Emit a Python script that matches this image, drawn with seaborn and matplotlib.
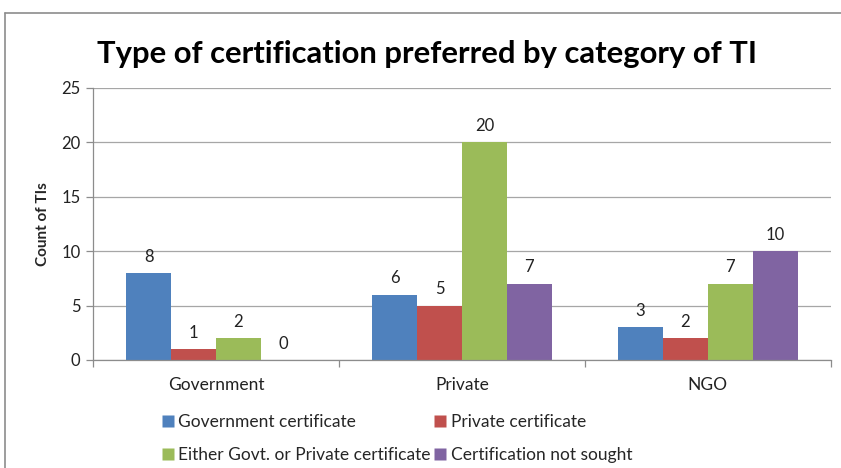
import pandas as pd
import matplotlib
matplotlib.use("Agg")
import matplotlib.pyplot as plt
import seaborn as sns
from matplotlib.lines import Line2D

categories = ["Government", "Private", "NGO"]
series = ["Government certificate", "Private certificate",
          "Either Govt. or Private certificate", "Certification not sought"]
gov_cert = [8, 6, 3]
priv_cert = [1, 5, 2]
either_cert = [2, 20, 7]
not_sought = [0, 7, 10]
colors = ["#4F81BD", "#C0504D", "#9BBB59", "#8064A2"]

rows = []
for s, vals in zip(series, [gov_cert, priv_cert, either_cert, not_sought]):
    for c, v in zip(categories, vals):
        rows.append({"category": c, "series": s, "count": v})
df = pd.DataFrame(rows)

sns.set_theme(style="white")
plt.rcParams["font.family"] = ["Lato", "DejaVu Sans"]

fig = plt.figure(figsize=(8.41, 4.68), dpi=100)
ax = fig.add_axes([0.1106, 0.2308, 0.8774, 0.5812])

sns.barplot(data=df, x="category", y="count", hue="series", palette=colors,
            width=0.73, saturation=1, ax=ax, legend=False, edgecolor="none")

# value labels
for cont in ax.containers:
    ax.bar_label(cont, padding=6, fontsize=12, color="#222222")

ax.set_ylim(0, 25)
ax.set_yticks(range(0, 26, 5))
ax.set_xlim(-0.5, 2.5)
ax.yaxis.grid(True, color="#A6A6A6", linewidth=0.9)
ax.set_axisbelow(True)
for side in ["top", "right"]:
    ax.spines[side].set_visible(False)
for side in ["left", "bottom"]:
    ax.spines[side].set_color("#8C8C8C")
    ax.spines[side].set_linewidth(0.9)

ax.tick_params(axis="y", left=True, length=5, width=0.9, color="#8C8C8C",
               labelsize=12, labelcolor="#222222", pad=4)
ax.tick_params(axis="x", bottom=False, labelsize=12.5, labelcolor="#222222", pad=6)
# category separator ticks on the x axis
ax.set_xticks([-0.5, 0.5, 1.5, 2.5], minor=True)
ax.tick_params(axis="x", which="minor", bottom=True, length=5, width=0.9,
               color="#8C8C8C")

ax.set_xlabel("")
ax.set_ylabel("Count of TIs", fontsize=11, fontweight="bold", labelpad=8)

fig.text(0.508, 0.884, "Type of certification preferred by category of TI",
         ha="center", va="center", fontsize=22.3, fontweight="bold", color="black")

# legend, filled row by row
handles = [Line2D([0], [0], marker="s", linestyle="none", markersize=9,
                  markerfacecolor=c, markeredgecolor="none") for c in colors]
order = [0, 2, 1, 3]
fig.legend([handles[i] for i in order], [series[i] for i in order],
           loc="upper left", bbox_to_anchor=(0.183, 0.13), ncol=2,
           frameon=False, fontsize=12.5, handlelength=0.8, handletextpad=0.2,
           columnspacing=0.15, labelspacing=1.0, borderaxespad=0)

# outer chart border (top and left visible)
fig.add_artist(Line2D([0.006, 1.0], [0.972, 0.972], color="#8C8C8C",
                      linewidth=1.2, transform=fig.transFigure))
fig.add_artist(Line2D([0.006, 0.006], [0.0, 0.972], color="#8C8C8C",
                      linewidth=1.2, transform=fig.transFigure))

fig.savefig("out.png", dpi=100)
